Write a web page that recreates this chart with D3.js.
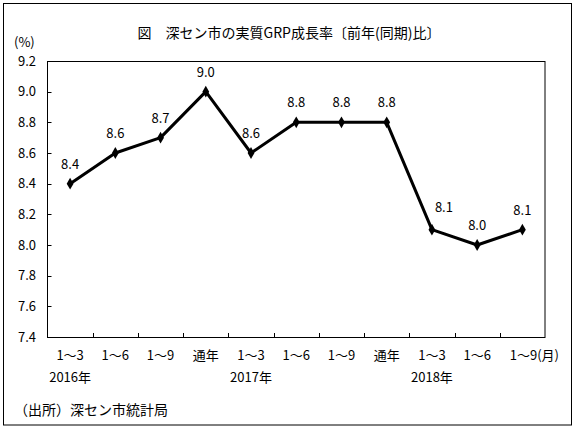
<!DOCTYPE html>
<html>
<head>
<meta charset="utf-8">
<script src="https://cdn.jsdelivr.net/npm/d3@7"></script>
<style>
  body { margin: 0; background: #fff; }
  text { font-family: "Noto Sans CJK JP", sans-serif; fill: #000; }
</style>
</head>
<body>
<svg id="chart" width="577" height="429"></svg>
<script>
// data
const periods = ["1～3", "1～6", "1～9", "通年", "1～3", "1～6", "1～9", "通年", "1～3", "1～6", "1～9(月)"];
const growth = [8.4, 8.6, 8.7, 9.0, 8.6, 8.8, 8.8, 8.8, 8.1, 8.0, 8.1];
const years = [{ label: "2016年", at: 0 }, { label: "2017年", at: 4 }, { label: "2018年", at: 8 }];
const yTicks = [7.4, 7.6, 7.8, 8.0, 8.2, 8.4, 8.6, 8.8, 9.0, 9.2];

const svg = d3.select("#chart");
const plot = { left: 47.5, right: 545, top: 61, bottom: 337 };

// outer frame
svg.append("rect")
  .attr("x", 3.5).attr("y", 3.5)
  .attr("width", 568).attr("height", 421.5)
  .attr("fill", "none").attr("stroke", "#000").attr("stroke-width", 1);

svg.append("text")
  .attr("x", 289).attr("y", 38)
  .attr("text-anchor", "middle")
  .attr("font-size", 14)
  .text("図\u3000深セン市の実質GRP成長率〔前年(同期)比〕");

const x = d3.scaleBand().domain(d3.range(periods.length)).range([plot.left, plot.right]);
const y = d3.scaleLinear().domain([7.4, 9.2]).range([plot.bottom, plot.top]);
const cx = i => x(i) + x.bandwidth() / 2;

// plot box
svg.append("rect")
  .attr("x", plot.left).attr("y", plot.top + 0.5)
  .attr("width", plot.right - plot.left).attr("height", plot.bottom - plot.top)
  .attr("fill", "none").attr("stroke", "#000").attr("stroke-width", 1);

// y ticks (inward) + labels
const yAxis = svg.append("g");
yAxis.selectAll("line").data(yTicks).enter().append("line")
  .attr("x1", plot.left).attr("x2", plot.left + 4)
  .attr("y1", d => Math.round(y(d)) + 0.5).attr("y2", d => Math.round(y(d)) + 0.5)
  .attr("stroke", "#000");
yAxis.selectAll("text").data(yTicks).enter().append("text")
  .attr("x", 36).attr("y", d => y(d) + 4.5)
  .attr("text-anchor", "end")
  .attr("font-size", 13)
  .text(d => d.toFixed(1));

svg.append("text")
  .attr("x", 14).attr("y", 47)
  .attr("font-size", 13)
  .text("(%)");

// x ticks between bands (inward)
const xTicks = d3.range(1, periods.length);
svg.append("g").selectAll("line").data(xTicks).enter().append("line")
  .attr("x1", d => Math.round(x(d)) + 0.5).attr("x2", d => Math.round(x(d)) + 0.5)
  .attr("y1", plot.bottom).attr("y2", plot.bottom - 4)
  .attr("stroke", "#000");

svg.append("g").selectAll("text").data(periods).enter().append("text")
  .attr("x", (d, i) => cx(i) + (i === periods.length - 1 ? 12 : 0))
  .attr("y", 360)
  .attr("text-anchor", "middle")
  .attr("font-size", 13)
  .text(d => d);

svg.append("g").selectAll("text").data(years).enter().append("text")
  .attr("x", d => cx(d.at))
  .attr("y", 382)
  .attr("text-anchor", "middle")
  .attr("font-size", 13)
  .text(d => d.label);

// series line
const line = d3.line()
  .x((d, i) => cx(i))
  .y(d => y(d));

svg.append("path")
  .datum(growth)
  .attr("d", line)
  .attr("fill", "none")
  .attr("stroke", "#000")
  .attr("stroke-width", 3)
  .attr("stroke-linejoin", "round");

svg.append("g").selectAll("path").data(growth).enter().append("path")
  .attr("d", d3.symbol().type(d3.symbolDiamond).size(40))
  .attr("transform", (d, i) => `translate(${cx(i)},${y(d)})`)
  .attr("fill", "#000");

// value labels; the one after the steep drop sits up and to the right
svg.append("g").selectAll("text").data(growth).enter().append("text")
  .attr("x", (d, i) => cx(i) + (i === 8 ? 12 : 0))
  .attr("y", (d, i) => y(d) - (i === 8 ? 18 : 15))
  .attr("text-anchor", "middle")
  .attr("font-size", 13)
  .text(d => d.toFixed(1));

svg.append("text")
  .attr("x", 14).attr("y", 415)
  .attr("font-size", 14)
  .text("（出所）深セン市統計局");
</script>
</body>
</html>
